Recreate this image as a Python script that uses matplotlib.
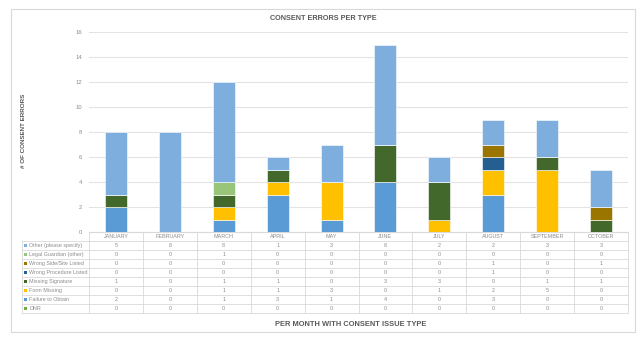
import matplotlib
matplotlib.use("Agg")
import matplotlib.pyplot as plt
import matplotlib.transforms as mtransforms
from matplotlib.patches import Rectangle
import numpy as np

plt.rcParams['font.family'] = ['Liberation Sans', 'DejaVu Sans']

months = ["JANUARY", "FEBRUARY", "MARCH", "APRIL", "MAY", "JUNE",
          "JULY", "AUGUST", "SEPTEMBER", "OCTOBER"]

# series in table order (top row first)
series_names = ["Other (please specify)", "Legal Guardian (other)", "Wrong Side/Site Listed",
                "Wrong Procedure Listed", "Missing Signature", "Form Missing",
                "Failure to Obtain", "DNR"]
other          = [5, 8, 8, 1, 3, 8, 2, 2, 3, 3]
legal_guardian = [0, 0, 1, 0, 0, 0, 0, 0, 0, 0]
wrong_side     = [0, 0, 0, 0, 0, 0, 0, 1, 0, 1]
wrong_proc     = [0, 0, 0, 0, 0, 0, 0, 1, 0, 0]
missing_sig    = [1, 0, 1, 1, 0, 3, 3, 0, 1, 1]
form_missing   = [0, 0, 1, 1, 3, 0, 1, 2, 5, 0]
failure        = [2, 0, 1, 3, 1, 4, 0, 3, 0, 0]
dnr            = [0, 0, 0, 0, 0, 0, 0, 0, 0, 0]
series_values = [other, legal_guardian, wrong_side, wrong_proc,
                 missing_sig, form_missing, failure, dnr]
colors = ["#7DAEDD", "#99C57A", "#9A7600", "#255E91",
          "#43682B", "#FFC000", "#5B9BD5", "#70AD47"]

W, H = 637, 339
fig = plt.figure(figsize=(W / 100, H / 100), dpi=100)

def fx(px):
    return px / W

def fy(py):
    return 1 - py / H

# outer border
fig.patches.append(Rectangle((fx(11), fy(332)), fx(635) - fx(11), fy(9) - fy(332),
                             transform=fig.transFigure, fill=False,
                             edgecolor="#d9d9d9", linewidth=0.8))

ax_left, ax_right, ax_top, ax_bot = 89, 628, 32, 232
ax = fig.add_axes([fx(ax_left), fy(ax_bot), fx(ax_right) - fx(ax_left), fy(ax_top) - fy(ax_bot)])

x = np.arange(len(months))
bottom = np.zeros(len(months))
# draw from bottom series (last in table) upward
for name, vals, col in reversed(list(zip(series_names, series_values, colors))):
    v = np.array(vals, dtype=float)
    ax.bar(x, v, bottom=bottom, width=0.41, color=col, edgecolor="white",
           linewidth=0.4, zorder=3)
    bottom += v

ax.set_xlim(-0.5, len(months) - 0.5)
ax.set_ylim(0, 16)
ax.set_yticks(range(0, 17, 2))
ax.yaxis.grid(True, color="#e3e3e3", linewidth=0.8, zorder=0)
ax.set_axisbelow(True)
for s in ["top", "right", "left"]:
    ax.spines[s].set_visible(False)
ax.spines["bottom"].set_color("#d9d9d9")
ax.spines["bottom"].set_linewidth(0.8)
ax.tick_params(axis="y", length=0, labelsize=4.2, labelcolor="#8c8c8c", pad=5)
ax.tick_params(axis="x", length=0, labelbottom=False)

# title and axis labels
fig.text(fx(323.5), fy(19), "CONSENT ERRORS PER TYPE", ha="center", va="center",
         fontsize=5.2, fontweight="bold", color="#595959")
fig.text(fx(24), fy(131), "# OF CONSENT ERRORS", ha="center", va="center",
         rotation=90, fontsize=4.5, fontweight="bold", color="#595959")
fig.text(fx(351), fy(324), "PER MONTH WITH CONSENT ISSUE TYPE", ha="center", va="center",
         fontsize=5.4, fontweight="bold", color="#595959")

# data table
trans = mtransforms.blended_transform_factory(ax.transData, fig.transFigure)
ftrans = fig.transFigure
row_h = 9.0
tab_top = 232
n_rows = len(series_names)
tab_bot = tab_top + row_h * (n_rows + 1)
line_kw = dict(color="#d9d9d9", linewidth=0.6, clip_on=False)
col_w = (ax_right - ax_left) / len(months)

# horizontal lines
for r in range(n_rows + 2):
    py = tab_top + r * row_h
    xl = ax_left if r == 0 else 22
    fig.add_artist(plt.Line2D([fx(xl), fx(ax_right)], [fy(py), fy(py)],
                              transform=ftrans, **line_kw))
# vertical lines
for k in range(len(months) + 1):
    px = ax_left + k * col_w
    fig.add_artist(plt.Line2D([fx(px), fx(px)], [fy(tab_top), fy(tab_bot)],
                              transform=ftrans, **line_kw))
fig.add_artist(plt.Line2D([fx(22), fx(22)], [fy(tab_top + row_h), fy(tab_bot)],
                          transform=ftrans, **line_kw))

txt_kw = dict(fontsize=3.9, color="#8c8c8c", va="center")
for i, m in enumerate(months):
    ax.text(i, fy(tab_top + row_h / 2), m, transform=trans, ha="center", **txt_kw)
for r, (name, vals, col) in enumerate(zip(series_names, series_values, colors)):
    py = tab_top + (r + 1.5) * row_h
    fig.patches.append(Rectangle((fx(24), fy(py + 1.6)), fx(3.3), fy(0) - fy(3.3),
                                 transform=ftrans, facecolor=col, edgecolor="none"))
    fig.text(fx(29), fy(py), name, ha="left", **txt_kw)
    for i, v in enumerate(vals):
        ax.text(i, fy(py), str(v), transform=trans, ha="center", **txt_kw)

fig.savefig("out.png", dpi=100)
